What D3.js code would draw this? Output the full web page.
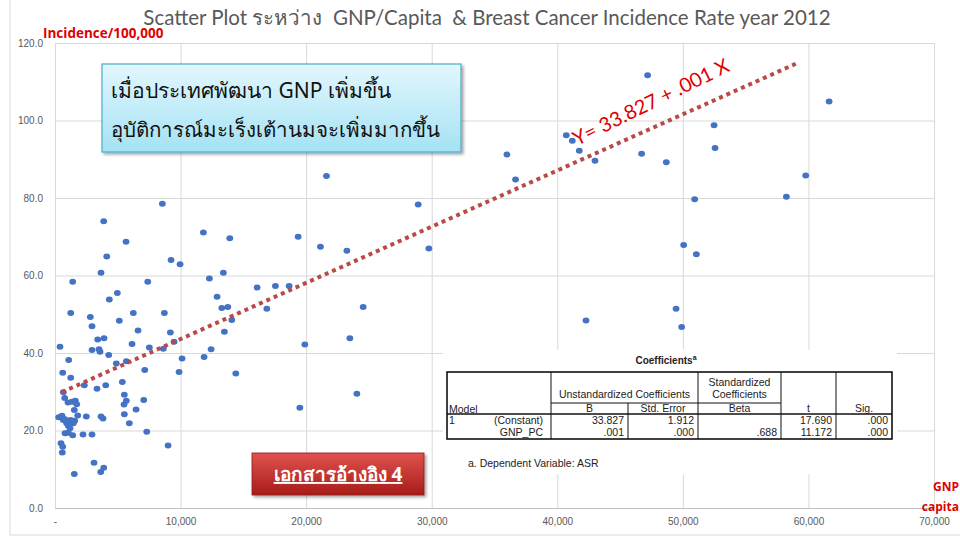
<!DOCTYPE html>
<html>
<head>
<meta charset="utf-8">
<script src="https://cdn.jsdelivr.net/npm/d3@7"></script>
<style>
  body { margin: 0; background: #fff; }
  svg { display: block; }
  .tick text { fill: #595959; font-family: "Liberation Sans", Arial, sans-serif; font-size: 10px; }
  .grid line { stroke: #d9d9d9; }
  .grid path { display: none; }
  .tbl text { font-family: "Liberation Sans", Arial, sans-serif; font-size: 10.5px; fill: #222; }
</style>
</head>
<body>
<svg id="chart" width="960" height="540"></svg>
<script>
// GNP per capita (US$)
let gnp = [1410, 3880, 4120, 3665, 5657, 8550, 9243, 9960, 7386, 11817,
  13920, 13410, 12295, 12908, 13283, 13761, 14080, 4964, 4327, 1251,
  2813, 2948, 5123, 6239, 8709, 6613, 9187, 13490, 398, 3402,
  3904, 2948, 3506, 3586, 4279, 6135, 7514, 8629, 9482, 12430,
  11872, 10119, 9880, 14398, 1092, 4884, 5681, 7147, 614, 1251,
  2335, 4040, 3347, 5363, 5522, 5681, 5498, 7068, 6454, 5522,
  5920, 7307, 9004, 661, 773, 1036, 1355, 1617, 1729, 1538,
  1809, 2494, 3665, 3825, 295, 558, 661, 932, 1195, 1570,
  797, 1410, 2231, 2948, 478, 614, 582, 3108, 3880, 3641,
  1538, 534, 797, 1251, 1060, 1458, 1060, 21617, 28924, 29776,
  19362, 21139, 23243, 16095, 17553, 18645, 16868, 24541, 19896, 23482,
  24040, 19498, 47195, 61648, 52485, 52565, 40716, 41195, 41752, 43003,
  46716, 48684, 35991, 36677, 50939, 59784, 58246, 50063, 51075, 49458,
  49904, 42286]
// breast cancer incidence (ASR per 100,000), same order
let asr = [58.4, 74.0, 64.9, 60.7, 68.7, 78.5, 64.0, 62.9, 58.4, 71.1,
  69.6, 60.7, 59.2, 54.5, 51.6, 51.9, 48.5, 55.5, 53.8, 50.3,
  49.3, 46.9, 48.3, 50.3, 50.3, 45.8, 45.3, 45.5, 41.6, 43.5,
  43.8, 40.8, 41.0, 40.3, 39.5, 42.3, 41.4, 41.1, 42.9, 41.0,
  39.0, 38.6, 35.1, 34.7, 38.2, 37.3, 37.9, 35.6, 34.9, 33.6,
  31.7, 31.7, 30.8, 32.5, 29.2, 27.7, 26.7, 27.9, 25.4, 24.2,
  21.9, 19.7, 16.1, 29.9, 28.4, 27.2, 27.4, 27.7, 26.8, 25.3,
  23.9, 23.6, 23.6, 23.1, 23.4, 23.8, 22.7, 21.9, 20.6, 22.5,
  19.3, 18.8, 19.0, 19.0, 16.7, 15.8, 14.3, 11.7, 10.4, 9.3,
  8.8, 23.4, 22.9, 22.7, 21.2, 21.9, 19.4, 85.7, 78.3, 67.0,
  70.0, 67.4, 66.4, 56.9, 57.3, 57.3, 51.4, 51.9, 42.2, 43.8,
  29.5, 25.9, 111.7, 104.9, 98.8, 92.9, 96.2, 94.8, 92.2, 89.6,
  91.4, 89.2, 91.2, 84.8, 79.7, 85.8, 80.3, 67.9, 65.5, 51.4,
  46.7, 48.4]

// trend line drawn by the spreadsheet (as it appears in the picture)
let trendIntercept = 29.1
let trendSlope = 0.00145
let trendRange = [550, 59000]

let xTicks = [0, 10000, 20000, 30000, 40000, 50000, 60000, 70000]
let yTicks = [0, 20, 40, 60, 80, 100, 120]

// SPSS coefficients table
let coefCols = ["B", "Std. Error", "Beta", "t", "Sig."]
let coefRows = [
  { num: "1", name: "(Constant)", vals: ["33.827", "1.912", "", "17.690", ".000"] },
  { num: "", name: "GNP_PC", vals: [".001", ".000", ".688", "11.172", ".000"] }
]

let svg = d3.select("#chart")

let plot = { left: 55, right: 934, top: 43, bottom: 508 }

let xScale = d3.scaleLinear().domain([0, 70000]).range([plot.left, plot.right])
let yScale = d3.scaleLinear().domain([0, 120]).range([plot.bottom, plot.top])

// outer chart frame
svg.append("rect")
  .attr("x", 10).attr("y", -2).attr("width", 970).attr("height", 537)
  .attr("fill", "none").attr("stroke", "#d9d9d9")

// title
svg.append("text")
  .attr("x", 487).attr("y", 25)
  .attr("text-anchor", "middle")
  .style("white-space", "pre")
  .style("font-family", "Lato, 'Open Sans', sans-serif")
  .style("font-size", "20.5px")
  .style("fill", "#595959")
  .text("Scatter Plot ระหว่าง  GNP/Capita  & Breast Cancer Incidence Rate year 2012")

// gridlines
svg.append("g")
  .attr("class", "grid")
  .attr("transform", `translate(0,${plot.bottom})`)
  .call(d3.axisBottom(xScale).tickValues(xTicks).tickSize(-(plot.bottom - plot.top)).tickFormat(""))
svg.append("g")
  .attr("class", "grid")
  .attr("transform", `translate(${plot.left},0)`)
  .call(d3.axisLeft(yScale).tickValues(yTicks).tickSize(-(plot.right - plot.left)).tickFormat(""))

// axes
let xAxis = svg.append("g")
  .attr("transform", `translate(0,${plot.bottom})`)
  .call(d3.axisBottom(xScale).tickValues(xTicks).tickSize(0).tickPadding(10)
    .tickFormat(d => d === 0 ? "-" : d3.format(",")(d)))
xAxis.select(".domain").attr("stroke", "#bfbfbf")

let yAxis = svg.append("g")
  .attr("transform", `translate(${plot.left},0)`)
  .call(d3.axisLeft(yScale).tickValues(yTicks).tickSize(0).tickPadding(12)
    .tickFormat(d3.format(".1f")))
yAxis.select(".domain").attr("stroke", "#d9d9d9")
yAxis.selectAll(".tick text").attr("dy", "0.32em")

// axis titles
svg.append("text")
  .attr("x", 43).attr("y", 38)
  .style("font-family", "'Open Sans', sans-serif")
  .style("font-weight", "bold").style("font-size", "13.5px")
  .style("fill", "#e00000")
  .text("Incidence/100,000")
svg.append("text")
  .attr("x", 959).attr("y", 491)
  .attr("text-anchor", "end")
  .style("font-family", "'Open Sans', sans-serif")
  .style("font-weight", "bold").style("font-size", "12px")
  .style("fill", "#e00000")
  .text("GNP")
svg.append("text")
  .attr("x", 959).attr("y", 511)
  .attr("text-anchor", "end")
  .style("font-family", "'Open Sans', sans-serif")
  .style("font-weight", "bold").style("font-size", "12px")
  .style("fill", "#e00000")
  .text("capita")

// scatter points
let points = gnp.map((g, i) => ({ x: g, y: asr[i] }))
svg.append("g")
  .selectAll("ellipse")
  .data(points)
  .join("ellipse")
  .attr("cx", d => xScale(d.x))
  .attr("cy", d => yScale(d.y))
  .attr("rx", 3.4)
  .attr("ry", 3)
  .attr("fill", "#4472c4")

// trend line
svg.append("line")
  .attr("x1", xScale(trendRange[0]))
  .attr("y1", yScale(trendIntercept + trendSlope * trendRange[0]))
  .attr("x2", xScale(trendRange[1]))
  .attr("y2", yScale(trendIntercept + trendSlope * trendRange[1]))
  .attr("stroke", "#b94a48")
  .attr("stroke-width", 4)
  .attr("stroke-dasharray", "4,4")

// regression equation
let eqAngle = Math.atan2(yScale(trendIntercept + trendSlope * trendRange[1]) - yScale(trendIntercept + trendSlope * trendRange[0]),
  xScale(trendRange[1]) - xScale(trendRange[0])) * 180 / Math.PI
svg.append("text")
  .attr("transform", `translate(577,146) rotate(${eqAngle - 2})`)
  .style("font-family", "Lato, 'Open Sans', sans-serif")
  .style("font-size", "20px")
  .style("fill", "#e00000")
  .text("Y= 33.827 + .001 X")

// blue note box
let defs = svg.append("defs")
let grad = defs.append("linearGradient").attr("id", "boxGrad")
  .attr("x1", 0).attr("y1", 0).attr("x2", 0).attr("y2", 1)
grad.append("stop").attr("offset", "0%").attr("stop-color", "#e3f7fd")
grad.append("stop").attr("offset", "100%").attr("stop-color", "#a4e2f4")
let redGrad = defs.append("linearGradient").attr("id", "redGrad")
  .attr("x1", 0).attr("y1", 0).attr("x2", 0).attr("y2", 1)
redGrad.append("stop").attr("offset", "0%").attr("stop-color", "#e0524e")
redGrad.append("stop").attr("offset", "100%").attr("stop-color", "#a81c1a")
let shadow = defs.append("filter").attr("id", "shadow")
  .attr("x", "-10%").attr("y", "-10%").attr("width", "130%").attr("height", "140%")
shadow.append("feDropShadow").attr("dx", 2).attr("dy", 2).attr("stdDeviation", 1.5)
  .attr("flood-color", "#000").attr("flood-opacity", 0.35)

svg.append("rect")
  .attr("x", 102).attr("y", 64).attr("width", 359).attr("height", 88)
  .attr("fill", "url(#boxGrad)")
  .attr("stroke", "#4bacc6").attr("stroke-width", 1.2)
  .attr("filter", "url(#shadow)")
svg.append("text")
  .attr("x", 111).attr("y", 98)
  .style("font-family", "'Noto Sans', sans-serif")
  .style("font-size", "21px").style("fill", "#111")
  .text("เมื่อประเทศพัฒนา GNP เพิ่มขึ้น")
svg.append("text")
  .attr("x", 111).attr("y", 137)
  .style("font-family", "'Noto Sans', sans-serif")
  .style("font-size", "20.5px").style("fill", "#111")
  .text("อุบัติการณ์มะเร็งเต้านมจะเพิ่มมากขึ้น")

// red reference button
svg.append("rect")
  .attr("x", 252).attr("y", 453).attr("width", 172).attr("height", 42)
  .attr("fill", "url(#redGrad)")
  .attr("stroke", "#8c1a18").attr("stroke-width", 0.8)
  .attr("filter", "url(#shadow)")
svg.append("text")
  .attr("x", 338).attr("y", 481)
  .attr("text-anchor", "middle")
  .style("font-family", "'Noto Sans', sans-serif")
  .style("font-size", "19px").style("font-weight", "bold")
  .style("fill", "#fff")
  .style("text-decoration", "underline")
  .text("เอกสารอ้างอิง 4")

// coefficients table
let tbl = svg.append("g").attr("class", "tbl")
tbl.append("rect")
  .attr("x", 443).attr("y", 350).attr("width", 454).attr("height", 124)
  .attr("fill", "#fff")
let title = tbl.append("text")
  .attr("x", 666).attr("y", 364)
  .attr("text-anchor", "middle")
  .style("font-weight", "bold").style("font-size", "10px")
title.append("tspan").text("Coefficients")
title.append("tspan").attr("dy", -4).style("font-size", "7px").text("a")

let colX = [447, 551, 628, 698, 781, 836, 892]
let rowY = [372, 403, 414, 427, 439]
let ln = (x1, y1, x2, y2, w) => tbl.append("line")
  .attr("x1", x1).attr("y1", y1).attr("x2", x2).attr("y2", y2)
  .attr("stroke", "#111").attr("stroke-width", w || 1)

tbl.append("rect")
  .attr("x", colX[0]).attr("y", rowY[0])
  .attr("width", colX[6] - colX[0]).attr("height", rowY[4] - rowY[0])
  .attr("fill", "none").attr("stroke", "#111").attr("stroke-width", 1.6)
ln(colX[1], rowY[0], colX[1], rowY[4])
ln(colX[3], rowY[0], colX[3], rowY[4])
ln(colX[4], rowY[0], colX[4], rowY[4])
ln(colX[5], rowY[0], colX[5], rowY[4])
ln(colX[2], rowY[1], colX[2], rowY[4])
ln(colX[1], rowY[1], colX[4], rowY[1])
ln(colX[0], rowY[2], colX[6], rowY[2], 1.4)

tbl.append("text").attr("x", (colX[1] + colX[3]) / 2).attr("y", 398)
  .attr("text-anchor", "middle").text("Unstandardized Coefficients")
tbl.append("text").attr("x", (colX[3] + colX[4]) / 2).attr("y", 386)
  .attr("text-anchor", "middle").text("Standardized")
tbl.append("text").attr("x", (colX[3] + colX[4]) / 2).attr("y", 398)
  .attr("text-anchor", "middle").text("Coefficients")
tbl.append("text").attr("x", 449).attr("y", 413).text("Model")
coefCols.forEach((c, i) => {
  tbl.append("text")
    .attr("x", (colX[i + 1] + colX[i + 2]) / 2).attr("y", 412)
    .attr("text-anchor", "middle").text(c)
})
coefRows.forEach((r, j) => {
  let y = rowY[2] + 10 + j * 12
  tbl.append("text").attr("x", 449).attr("y", y).text(r.num)
  tbl.append("text").attr("x", 543).attr("y", y).attr("text-anchor", "end").text(r.name)
  r.vals.forEach((v, i) => {
    tbl.append("text")
      .attr("x", colX[i + 2] - 4).attr("y", y)
      .attr("text-anchor", "end").text(v)
  })
})
tbl.append("text").attr("x", 468).attr("y", 467).text("a. Dependent Variable: ASR")
</script>
</body>
</html>
